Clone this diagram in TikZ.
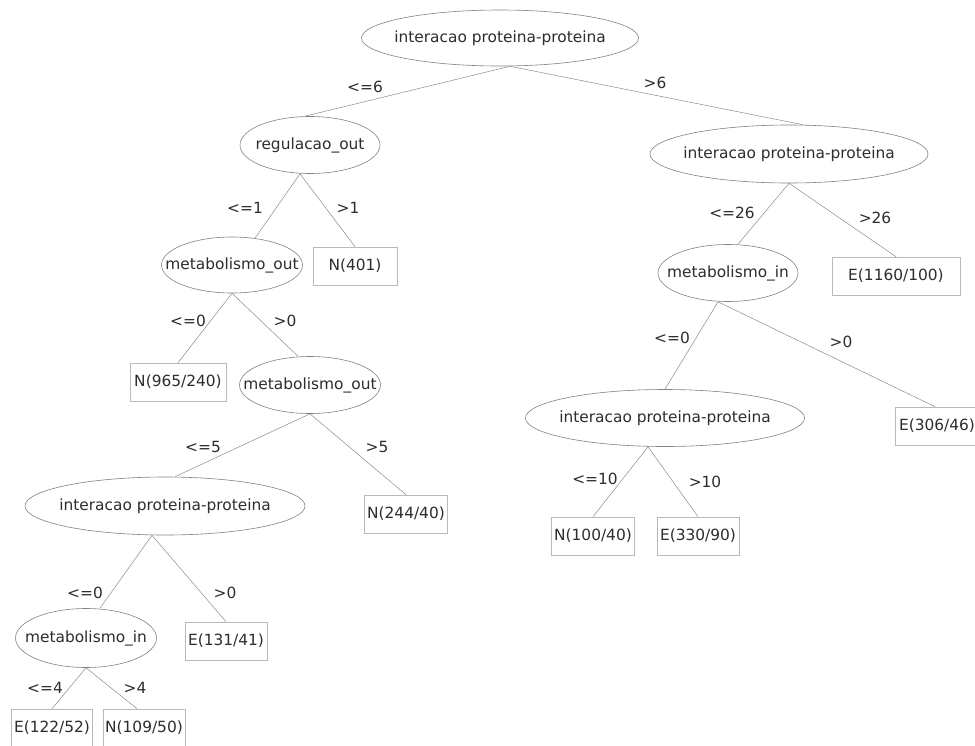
\documentclass[tikz,border=0pt]{standalone}
\usepackage{fontspec}
\setmainfont{DejaVu Sans}
\usetikzlibrary{shapes.geometric}
\definecolor{edgecol}{RGB}{140,140,140}
\definecolor{boxcol}{RGB}{185,185,185}
\definecolor{ellcol}{RGB}{130,130,130}
\definecolor{txtcol}{RGB}{45,45,45}
\begin{document}
\begin{tikzpicture}[x=1pt,y=-1pt, font=\fontsize{15.4}{18}\selectfont, text=txtcol,
  ell/.style={draw=ellcol, line width=0.6pt, ellipse, inner sep=0pt},
  leaf/.style={draw=boxcol, line width=0.6pt, rectangle, inner sep=0pt, minimum height=38pt},
  txt/.style={inner sep=0pt},
  lbl/.style={inner sep=0pt},
  conn/.style={draw=edgecol, line width=0.5pt}]
\useasboundingbox[fill=white] (0,0) rectangle (975,745);

% internal nodes (ellipses) and their texts
\node[ell, minimum width=277pt, minimum height=56pt] (root) at (500,38) {};
\node[txt] (roott) at (root) {interacao proteina-proteina};
\node[ell, minimum width=140pt, minimum height=57pt] (reg) at (310,145) {};
\node[txt] (regt) at (reg) {regulacao\_out};
\node[ell, minimum width=278pt, minimum height=58pt] (intR) at (789,154) {};
\node[txt] (intRt) at (intR) {interacao proteina-proteina};
\node[ell, minimum width=141pt, minimum height=56pt] (mo1) at (232,265) {};
\node[txt] (mo1t) at (mo1) {metabolismo\_out};
\node[ell, minimum width=141pt, minimum height=57pt] (mo2) at (310,385) {};
\node[txt] (mo2t) at (mo2) {metabolismo\_out};
\node[ell, minimum width=280pt, minimum height=58pt] (intL) at (165,506) {};
\node[txt] (intLt) at (intL) {interacao proteina-proteina};
\node[ell, minimum width=141pt, minimum height=59pt] (mi1) at (86,638) {};
\node[txt] (mi1t) at (mi1) {metabolismo\_in};
\node[ell, minimum width=140pt, minimum height=57pt] (mi2) at (728,273) {};
\node[txt] (mi2t) at (mi2) {metabolismo\_in};
\node[ell, minimum width=279pt, minimum height=57pt] (intRL) at (665,418) {};
\node[txt] (intRLt) at (intRL) {interacao proteina-proteina};

% leaves
\node[leaf, minimum width=84pt] (N401) at (355,266) {N(401)};
\node[leaf, minimum width=96pt] (N965) at (178,382) {N(965/240)};
\node[leaf, minimum width=83pt] (N244) at (406,514) {N(244/40)};
\node[leaf, minimum width=82pt] (E131) at (226,641) {E(131/41)};
\node[leaf, minimum width=81pt] (E122) at (52,728) {E(122/52)};
\node[leaf, minimum width=82pt] (N109) at (144,728) {N(109/50)};
\node[leaf, minimum width=128pt] (E1160) at (896,276) {E(1160/100)};
\node[leaf, minimum width=84pt] (E306) at (937,426) {E(306/46)};
\node[leaf, minimum width=83pt] (N100) at (593,536) {N(100/40)};
\node[leaf, minimum width=82pt] (E330) at (698,536) {E(330/90)};

% connectors
\draw[conn] ([xshift=10pt]root.south) -- ([xshift=-5pt]reg.north);
\draw[conn] ([xshift=10pt]root.south) -- ([xshift=14pt]intR.north);
\draw[conn] ([xshift=-10pt]reg.south) -- ([xshift=23pt,yshift=-1.5pt]mo1.north);
\draw[conn] ([xshift=-10pt]reg.south) -- (N401.north);
\draw[conn] (mo1.south) -- (N965.north);
\draw[conn] (mo1.south) -- ([xshift=-12pt]mo2.north);
\draw[conn] (mo2.south) -- ([xshift=10pt]intL.north);
\draw[conn] (mo2.south) -- (N244.north);
\draw[conn] ([xshift=-13pt]intL.south) -- ([xshift=14pt]mi1.north);
\draw[conn] ([xshift=-13pt]intL.south) -- (E131.north);
\draw[conn] (mi1.south) -- (E122.north);
\draw[conn] (mi1.south) -- ([xshift=-7pt]N109.north);
\draw[conn] (intR.south) -- ([xshift=10pt]mi2.north);
\draw[conn] (intR.south) -- (E1160.north);
\draw[conn] ([xshift=-10pt]mi2.south) -- (intRL.north);
\draw[conn] ([xshift=-10pt]mi2.south) -- ([xshift=-2pt]E306.north);
\draw[conn] ([xshift=-17pt]intRL.south) -- (N100.north);
\draw[conn] ([xshift=-17pt]intRL.south) -- (E330.north);

% edge labels
\node[lbl] (l1) at (365,87) {<=6};
\node[lbl] (l2) at (655,83) {>6};
\node[lbl] (l3) at (245,208) {<=1};
\node[lbl] (l4) at (348,208) {>1};
\node[lbl] (l5) at (188,321) {<=0};
\node[lbl] (l6) at (285,321) {>0};
\node[lbl] (l7) at (203,447) {<=5};
\node[lbl] (l8) at (377,447) {>5};
\node[lbl] (l9) at (85,593) {<=0};
\node[lbl] (l10) at (225,593) {>0};
\node[lbl] (l11) at (45,688) {<=4};
\node[lbl] (l12) at (135,688) {>4};
\node[lbl] (l13) at (732,213) {<=26};
\node[lbl] (l14) at (875,218) {>26};
\node[lbl] (l15) at (672,338) {<=0};
\node[lbl] (l16) at (841,342) {>0};
\node[lbl] (l17) at (595,479) {<=10};
\node[lbl] (l18) at (705,482) {>10};
\end{tikzpicture}
\end{document}
